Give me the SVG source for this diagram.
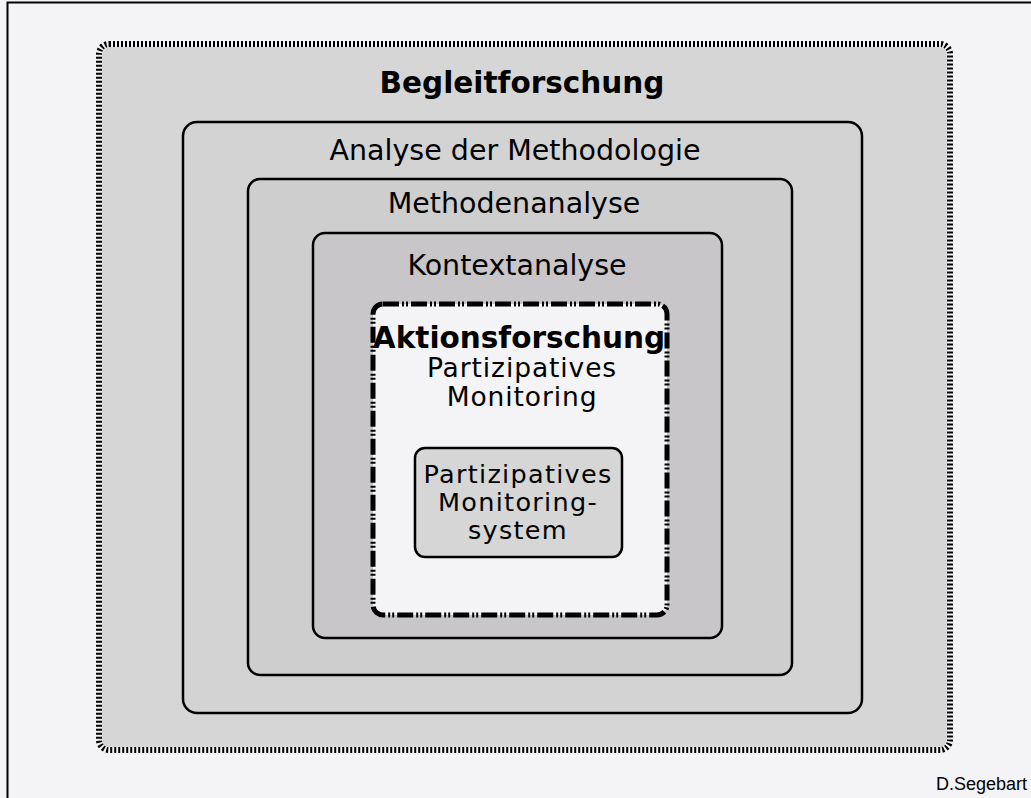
<svg xmlns="http://www.w3.org/2000/svg" width="1031" height="798" viewBox="0 0 1031 798">
  <style>
    .lbl { font-family: "DejaVu Sans", Verdana, sans-serif; font-size: 28.5px; fill: #000; text-anchor: middle; }
    .bold { font-weight: bold; font-size: 29.5px; }
    .stack { font-size: 26.5px; letter-spacing: 0.9px; }
    .tight { font-size: 25.5px; letter-spacing: 1.3px; }
    .box { stroke: #000; stroke-width: 2.5; }
    .credit { font-family: "Liberation Sans", Arial, sans-serif; font-size: 18px; fill: #000; text-anchor: end; }
  </style>
  <rect x="0" y="0" width="1031" height="798" fill="#f4f3f5"/>
  <!-- page frame -->
  <path d="M7.5 798 V2.5 H1031" fill="none" stroke="#000" stroke-width="2"/>

  <g id="begleitforschung">
    <rect x="99" y="44" width="851" height="706" rx="10" fill="#d6d6d6" stroke="#f4f3f5" stroke-width="6"/>
    <rect x="99" y="44" width="851" height="706" rx="10" fill="none" stroke="#000" stroke-width="6" stroke-dasharray="2 2"/>
    <text class="lbl bold" x="522" y="93">Begleitforschung</text>
  </g>

  <g id="methodologie">
    <rect class="box" x="183" y="122" width="679" height="591" rx="14" fill="#d3d3d3"/>
    <text class="lbl" x="515" y="160">Analyse der Methodologie</text>
  </g>

  <g id="methodenanalyse">
    <rect class="box" x="248" y="179" width="544" height="496" rx="12" fill="#cfcecf"/>
    <text class="lbl" x="514" y="213">Methodenanalyse</text>
  </g>

  <g id="kontextanalyse">
    <rect class="box" x="313" y="233" width="409" height="405" rx="12" fill="#c8c6c8"/>
    <text class="lbl" x="517" y="275">Kontextanalyse</text>
  </g>

  <g id="aktionsforschung">
    <rect x="373" y="304" width="294" height="311" rx="10" fill="#f4f3f5" stroke="#000" stroke-width="5" stroke-dasharray="16 3 2 2 2 3"/>
    <text class="lbl bold" x="519" y="348">Aktionsforschung</text>
    <text class="lbl stack" x="522" y="377">Partizipatives</text>
    <text class="lbl stack" x="522" y="406">Monitoring</text>
  </g>

  <g id="monitoringsystem">
    <rect class="box" x="415" y="448" width="207" height="109" rx="10" fill="#d6d6d6"/>
    <text class="lbl tight" x="518" y="483">Partizipatives</text>
    <text class="lbl tight" x="518" y="511">Monitoring-</text>
    <text class="lbl tight" x="518" y="539">system</text>
  </g>

  <text class="credit" x="1027" y="790">D.Segebart</text>
</svg>
